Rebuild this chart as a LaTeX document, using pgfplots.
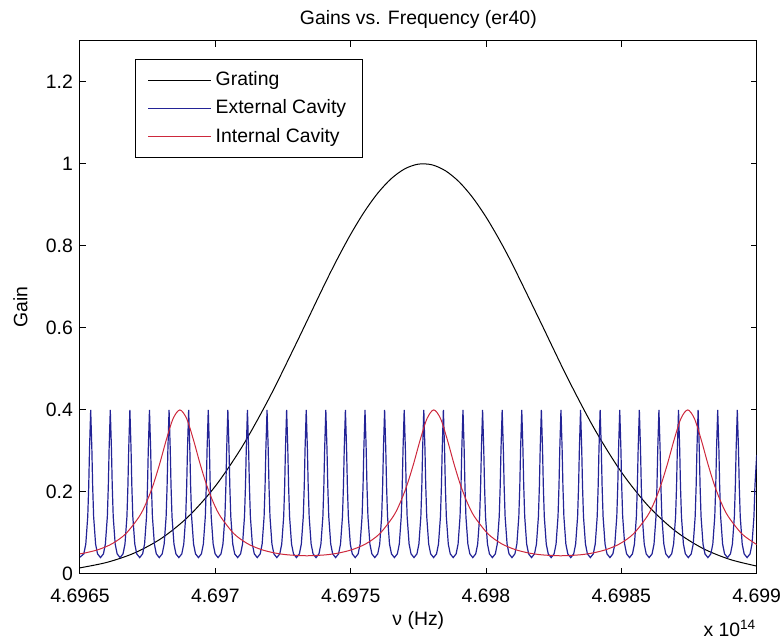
\documentclass[border=0pt]{standalone}
\usepackage{fontspec}
\setmainfont{Liberation Sans}
\usepackage{pgfplots}
\pgfplotsset{compat=1.18}
\definecolor{extblue}{RGB}{35,35,150}
\definecolor{intred}{RGB}{205,40,60}
\newcommand{\figfont}{\fontsize{9.7}{11.6}\selectfont}
% x is (nu/1e14 - 4.6965)*1e4, so ticks 0..25 stand for 4.6965..4.699 (x 10^14)
\begin{document}
\begin{tikzpicture}
\begin{axis}[
  scale only axis,
  width=338.35pt, height=266.65pt,
  xmin=0, xmax=25, ymin=0, ymax=1.3,
  xtick={0,5,10,15,20,25},
  xticklabels={4.6965,4.697,4.6975,4.698,4.6985,4.699},
  ytick={0,0.2,0.4,0.6,0.8,1,1.2},
  yticklabels={0,0.2,0.4,0.6,0.8,1,1.2},
  tick align=inside,
  major tick length=3pt,
  tick style={black, line width=0.5pt},
  axis line style={line width=0.5pt},
  font=\figfont,
  tick label style={font=\figfont},
  xticklabel style={yshift=-4pt},
  title={Gains vs. Frequency (er40)},
  every axis title/.style={at={(axis description cs:0.5,1)}, anchor=base, yshift=8.3pt},
  xlabel={ν (Hz)},
  xlabel style={at={(axis description cs:0.5,-0.0863)}, anchor=center},
  ylabel={Gain},
  ylabel style={at={(axis description cs:-0.088,0.5)}, anchor=center},
  legend style={at={(axis description cs:0.0813,0.965)}, anchor=north west,
    draw=black, line width=0.5pt, fill=white, font=\figfont,
    row sep=1.5pt, inner xsep=6pt, inner ysep=4pt},
  legend cell align=left,
  legend image code/.code={\draw[#1] (0pt,0pt) -- (31.5pt,0pt);},
]
% Grating
\addplot[black, line width=0.5pt, smooth] coordinates {
(0,0.0150) (1,0.0284) (2,0.0509) (3,0.0865) (4,0.1397) (5,0.2141) (6,0.3114)
(7,0.4301) (8,0.5637) (9,0.7012) (9.5,0.7670) (10,0.8281) (10.5,0.8825) (11,0.9283)
(11.5,0.9638) (12,0.9877) (12.5,0.9991) (13,0.9975) (13.5,0.9830) (14,0.9563)
(14.5,0.9182) (15,0.8702) (15.5,0.8140) (16,0.7516) (17,0.6162) (18,0.4796)
(19,0.3543) (20,0.2484) (21,0.1653) (22,0.1045) (23,0.0627) (24,0.0357) (25,0.0193)
};
\addlegendentry{Grating}
% External cavity
\addplot[extblue, line width=0.6pt] coordinates {
(0,0.041)
(0.1416,0.049) (0.2140,0.073) (0.2864,0.140) (0.3226,0.215) (0.3516,0.304) (0.3950,0.400) (0.4384,0.304) (0.4674,0.215) (0.5036,0.140) (0.5760,0.073) (0.6484,0.049) (0.7570,0.040)
(0.8655,0.049) (0.9379,0.073) (1.0103,0.140) (1.0465,0.215) (1.0755,0.304) (1.1189,0.400) (1.1623,0.304) (1.1913,0.215) (1.2275,0.140) (1.2999,0.073) (1.3723,0.049) (1.4809,0.040)
(1.5894,0.049) (1.6618,0.073) (1.7342,0.140) (1.7704,0.215) (1.7994,0.304) (1.8428,0.400) (1.8862,0.304) (1.9152,0.215) (1.9514,0.140) (2.0238,0.073) (2.0962,0.049) (2.2048,0.040)
(2.3133,0.049) (2.3857,0.073) (2.4581,0.140) (2.4943,0.215) (2.5233,0.304) (2.5667,0.400) (2.6101,0.304) (2.6391,0.215) (2.6753,0.140) (2.7477,0.073) (2.8201,0.049) (2.9287,0.040)
(3.0372,0.049) (3.1096,0.073) (3.1820,0.140) (3.2182,0.215) (3.2472,0.304) (3.2906,0.400) (3.3340,0.304) (3.3630,0.215) (3.3992,0.140) (3.4716,0.073) (3.5440,0.049) (3.6526,0.040)
(3.7611,0.049) (3.8335,0.073) (3.9059,0.140) (3.9421,0.215) (3.9711,0.304) (4.0145,0.400) (4.0579,0.304) (4.0869,0.215) (4.1231,0.140) (4.1955,0.073) (4.2679,0.049) (4.3765,0.040)
(4.4850,0.049) (4.5574,0.073) (4.6298,0.140) (4.6660,0.215) (4.6950,0.304) (4.7384,0.400) (4.7818,0.304) (4.8108,0.215) (4.8470,0.140) (4.9194,0.073) (4.9918,0.049) (5.1004,0.040)
(5.2089,0.049) (5.2813,0.073) (5.3537,0.140) (5.3899,0.215) (5.4189,0.304) (5.4623,0.400) (5.5057,0.304) (5.5347,0.215) (5.5709,0.140) (5.6433,0.073) (5.7157,0.049) (5.8243,0.040)
(5.9328,0.049) (6.0052,0.073) (6.0776,0.140) (6.1138,0.215) (6.1428,0.304) (6.1862,0.400) (6.2296,0.304) (6.2586,0.215) (6.2948,0.140) (6.3672,0.073) (6.4396,0.049) (6.5482,0.040)
(6.6567,0.049) (6.7291,0.073) (6.8015,0.140) (6.8377,0.215) (6.8667,0.304) (6.9101,0.400) (6.9535,0.304) (6.9825,0.215) (7.0187,0.140) (7.0911,0.073) (7.1635,0.049) (7.2721,0.040)
(7.3806,0.049) (7.4530,0.073) (7.5254,0.140) (7.5616,0.215) (7.5906,0.304) (7.6340,0.400) (7.6774,0.304) (7.7064,0.215) (7.7426,0.140) (7.8150,0.073) (7.8874,0.049) (7.9960,0.040)
(8.1045,0.049) (8.1769,0.073) (8.2493,0.140) (8.2855,0.215) (8.3145,0.304) (8.3579,0.400) (8.4013,0.304) (8.4303,0.215) (8.4665,0.140) (8.5389,0.073) (8.6113,0.049) (8.7199,0.040)
(8.8284,0.049) (8.9008,0.073) (8.9732,0.140) (9.0094,0.215) (9.0384,0.304) (9.0818,0.400) (9.1252,0.304) (9.1542,0.215) (9.1904,0.140) (9.2628,0.073) (9.3352,0.049) (9.4438,0.040)
(9.5523,0.049) (9.6247,0.073) (9.6971,0.140) (9.7333,0.215) (9.7623,0.304) (9.8057,0.400) (9.8491,0.304) (9.8781,0.215) (9.9143,0.140) (9.9867,0.073) (10.0591,0.049) (10.1677,0.040)
(10.2762,0.049) (10.3486,0.073) (10.4210,0.140) (10.4572,0.215) (10.4862,0.304) (10.5296,0.400) (10.5730,0.304) (10.6020,0.215) (10.6382,0.140) (10.7106,0.073) (10.7830,0.049) (10.8916,0.040)
(11.0001,0.049) (11.0725,0.073) (11.1449,0.140) (11.1811,0.215) (11.2101,0.304) (11.2535,0.400) (11.2969,0.304) (11.3259,0.215) (11.3621,0.140) (11.4345,0.073) (11.5069,0.049) (11.6155,0.040)
(11.7240,0.049) (11.7964,0.073) (11.8688,0.140) (11.9050,0.215) (11.9340,0.304) (11.9774,0.400) (12.0208,0.304) (12.0498,0.215) (12.0860,0.140) (12.1584,0.073) (12.2308,0.049) (12.3394,0.040)
(12.4479,0.049) (12.5203,0.073) (12.5927,0.140) (12.6289,0.215) (12.6579,0.304) (12.7013,0.400) (12.7447,0.304) (12.7737,0.215) (12.8099,0.140) (12.8823,0.073) (12.9547,0.049) (13.0633,0.040)
(13.1718,0.049) (13.2442,0.073) (13.3166,0.140) (13.3528,0.215) (13.3818,0.304) (13.4252,0.400) (13.4686,0.304) (13.4976,0.215) (13.5338,0.140) (13.6062,0.073) (13.6786,0.049) (13.7872,0.040)
(13.8957,0.049) (13.9681,0.073) (14.0405,0.140) (14.0767,0.215) (14.1057,0.304) (14.1491,0.400) (14.1925,0.304) (14.2215,0.215) (14.2577,0.140) (14.3301,0.073) (14.4025,0.049) (14.5111,0.040)
(14.6196,0.049) (14.6920,0.073) (14.7644,0.140) (14.8006,0.215) (14.8296,0.304) (14.8730,0.400) (14.9164,0.304) (14.9454,0.215) (14.9816,0.140) (15.0540,0.073) (15.1264,0.049) (15.2350,0.040)
(15.3435,0.049) (15.4159,0.073) (15.4883,0.140) (15.5245,0.215) (15.5535,0.304) (15.5969,0.400) (15.6403,0.304) (15.6693,0.215) (15.7055,0.140) (15.7779,0.073) (15.8503,0.049) (15.9589,0.040)
(16.0674,0.049) (16.1398,0.073) (16.2122,0.140) (16.2484,0.215) (16.2774,0.304) (16.3208,0.400) (16.3642,0.304) (16.3932,0.215) (16.4294,0.140) (16.5018,0.073) (16.5742,0.049) (16.6828,0.040)
(16.7913,0.049) (16.8637,0.073) (16.9361,0.140) (16.9723,0.215) (17.0013,0.304) (17.0447,0.400) (17.0881,0.304) (17.1171,0.215) (17.1533,0.140) (17.2257,0.073) (17.2981,0.049) (17.4067,0.040)
(17.5152,0.049) (17.5876,0.073) (17.6600,0.140) (17.6962,0.215) (17.7252,0.304) (17.7686,0.400) (17.8120,0.304) (17.8410,0.215) (17.8772,0.140) (17.9496,0.073) (18.0220,0.049) (18.1306,0.040)
(18.2391,0.049) (18.3115,0.073) (18.3839,0.140) (18.4201,0.215) (18.4491,0.304) (18.4925,0.400) (18.5359,0.304) (18.5649,0.215) (18.6011,0.140) (18.6735,0.073) (18.7459,0.049) (18.8545,0.040)
(18.9630,0.049) (19.0354,0.073) (19.1078,0.140) (19.1440,0.215) (19.1730,0.304) (19.2164,0.400) (19.2598,0.304) (19.2888,0.215) (19.3250,0.140) (19.3974,0.073) (19.4698,0.049) (19.5784,0.040)
(19.6869,0.049) (19.7593,0.073) (19.8317,0.140) (19.8679,0.215) (19.8969,0.304) (19.9403,0.400) (19.9837,0.304) (20.0127,0.215) (20.0489,0.140) (20.1213,0.073) (20.1937,0.049) (20.3023,0.040)
(20.4108,0.049) (20.4832,0.073) (20.5556,0.140) (20.5918,0.215) (20.6208,0.304) (20.6642,0.400) (20.7076,0.304) (20.7366,0.215) (20.7728,0.140) (20.8452,0.073) (20.9176,0.049) (21.0262,0.040)
(21.1347,0.049) (21.2071,0.073) (21.2795,0.140) (21.3157,0.215) (21.3447,0.304) (21.3881,0.400) (21.4315,0.304) (21.4605,0.215) (21.4967,0.140) (21.5691,0.073) (21.6415,0.049) (21.7501,0.040)
(21.8586,0.049) (21.9310,0.073) (22.0034,0.140) (22.0396,0.215) (22.0686,0.304) (22.1120,0.400) (22.1554,0.304) (22.1844,0.215) (22.2206,0.140) (22.2930,0.073) (22.3654,0.049) (22.4740,0.040)
(22.5825,0.049) (22.6549,0.073) (22.7273,0.140) (22.7635,0.215) (22.7925,0.304) (22.8359,0.400) (22.8793,0.304) (22.9083,0.215) (22.9445,0.140) (23.0169,0.073) (23.0893,0.049) (23.1979,0.040)
(23.3064,0.049) (23.3788,0.073) (23.4512,0.140) (23.4874,0.215) (23.5164,0.304) (23.5598,0.400) (23.6032,0.304) (23.6322,0.215) (23.6684,0.140) (23.7408,0.073) (23.8132,0.049) (23.9218,0.040)
(24.0303,0.049) (24.1027,0.073) (24.1751,0.140) (24.2113,0.215) (24.2403,0.304) (24.2837,0.400) (24.3271,0.304) (24.3561,0.215) (24.3923,0.140) (24.4647,0.073) (24.5371,0.049) (24.6457,0.040)
(24.7542,0.049) (24.8266,0.073) (24.8990,0.140) (24.9352,0.215) (25.0000,0.290)
};
\addlegendentry{External Cavity}
% Internal cavity
\addplot[intred, line width=0.5pt, smooth] coordinates {
(0,0.0492) (0.19,0.0513) (0.69,0.0597) (1.19,0.0739) (1.69,0.0980) (2.19,0.1401)
(2.44,0.1723) (2.69,0.2145) (2.94,0.2677) (3.19,0.3273) (3.44,0.3788) (3.69,0.4000)
(3.94,0.3788) (4.19,0.3273) (4.44,0.2677) (4.69,0.2145) (4.94,0.1723) (5.19,0.1401)
(5.69,0.0980) (6.19,0.0739) (6.69,0.0597) (7.19,0.0513) (7.69,0.0466) (8.38,0.0444)
(9.07,0.0466) (9.57,0.0513) (10.07,0.0597) (10.57,0.0739) (11.07,0.0980) (11.57,0.1401)
(11.82,0.1723) (12.07,0.2145) (12.32,0.2677) (12.57,0.3273) (12.82,0.3788) (13.07,0.4000)
(13.32,0.3788) (13.57,0.3273) (13.82,0.2677) (14.07,0.2145) (14.32,0.1723) (14.57,0.1401)
(15.07,0.0980) (15.57,0.0739) (16.07,0.0597) (16.57,0.0513) (17.07,0.0466) (17.76,0.0444)
(18.45,0.0466) (18.95,0.0513) (19.45,0.0597) (19.95,0.0739) (20.45,0.0980) (20.95,0.1401)
(21.20,0.1723) (21.45,0.2145) (21.70,0.2677) (21.95,0.3273) (22.20,0.3788) (22.45,0.4000)
(22.70,0.3788) (22.95,0.3273) (23.20,0.2677) (23.45,0.2145) (23.70,0.1723) (23.95,0.1401)
(24.45,0.0980) (24.95,0.0739) (25.00,0.0721)
};
\addlegendentry{Internal Cavity}
\end{axis}
% power-of-ten note, set outside the axis so it is not clipped
\node[anchor=base east, font=\figfont, inner sep=0pt] at (338.35pt,-31.2pt) {x 10\textsuperscript{14}};
\pgfresetboundingbox
\path[use as bounding box] (-40pt,-33.5pt) rectangle (352pt,287pt);
\end{tikzpicture}
\end{document}
